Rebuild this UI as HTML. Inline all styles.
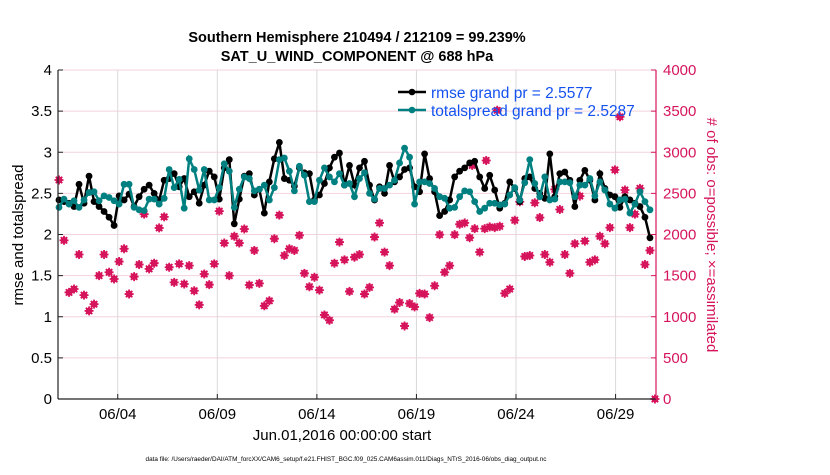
<!DOCTYPE html>
<html><head><meta charset="utf-8"><style>
body{margin:0;background:#fff;}
svg{font-family:"Liberation Sans",Arial,sans-serif;}
</style></head><body>
<svg id="chart" width="830" height="470" xmlns="http://www.w3.org/2000/svg">
<g id="grid"></g><g id="marks"></g><g id="axes"></g>
<text x="357" y="42" text-anchor="middle" font-size="14.5" font-weight="bold">Southern Hemisphere 210494 / 212109 = 99.239%</text>
<text x="357" y="61" text-anchor="middle" font-size="14.5" font-weight="bold">SAT_U_WIND_COMPONENT @ 688 hPa</text>
<text transform="translate(23,235) rotate(-90)" text-anchor="middle" font-size="15">rmse and totalspread</text>
<text transform="translate(707,235) rotate(90)" text-anchor="middle" font-size="15" fill="#d6145c"># of obs: o=possible; ×=assimilated</text>
<text x="342" y="440" text-anchor="middle" font-size="15">Jun.01,2016 00:00:00 start</text>
<text x="346" y="461" text-anchor="middle" font-size="6.4">data file: /Users/raeder/DAI/ATM_forcXX/CAM6_setup/f.e21.FHIST_BGC.f09_025.CAM6assim.011/Diags_NTrS_2016-06/obs_diag_output.nc</text>
<g>
<g><line x1="398" y1="92" x2="426" y2="92" stroke="#000" stroke-width="2.5"/><circle cx="412" cy="92" r="3.3" fill="#000"/><text x="431" y="98" font-size="15.5" fill="#1452f0">rmse grand pr = 2.5577</text></g>
<g><line x1="398" y1="110" x2="426" y2="110" stroke="#008080" stroke-width="2.5"/><circle cx="412" cy="110" r="3.3" fill="#008080"/><text x="431" y="116" font-size="15.5" fill="#1452f0">totalspread grand pr = 2.5287</text></g>
</g>
</svg>
<script>
const rmse=[2.42,2.40,2.38,2.34,2.61,2.38,2.71,2.40,2.34,2.28,2.21,2.11,2.47,2.42,2.49,2.34,2.46,2.55,2.60,2.50,2.42,2.66,2.68,2.74,2.58,2.68,2.46,2.52,2.38,
2.60,2.77,2.70,2.43,2.81,2.91,2.13,2.43,2.71,2.74,2.48,2.55,2.26,2.64,2.92,3.12,2.68,2.66,2.59,2.81,2.75,2.74,2.42,2.48,2.62,2.81,2.94,2.99,2.60,
2.84,2.60,2.81,2.89,2.60,2.42,2.58,2.50,2.84,2.64,2.70,2.79,2.81,2.58,2.52,2.98,2.68,2.52,2.23,2.28,2.42,2.70,2.77,2.81,2.87,2.89,2.70,2.56,2.72,
2.54,2.32,2.38,2.64,2.56,2.40,2.68,2.70,2.56,2.50,2.44,2.98,2.46,2.74,2.76,2.66,2.34,2.66,2.78,2.66,2.42,2.74,2.56,2.48,2.46,2.33,2.46,2.42,2.38,2.34,2.21,1.96];
const spread=[2.33,2.43,2.37,2.41,2.33,2.42,2.51,2.52,2.41,2.47,2.45,2.41,2.37,2.61,2.61,2.33,2.30,2.29,2.43,2.43,2.37,2.44,2.79,2.57,2.67,2.32,2.92,2.79,2.54,
2.79,2.42,2.42,2.57,2.86,2.77,2.33,2.55,2.70,2.68,2.53,2.55,2.60,2.42,2.57,2.91,2.93,2.77,2.53,2.83,2.72,2.40,2.40,2.66,2.81,2.70,2.64,2.74,2.60,
2.62,2.46,2.68,2.75,2.50,2.43,2.56,2.56,2.60,2.66,2.87,3.05,2.94,2.37,2.64,2.64,2.62,2.56,2.46,2.44,2.32,2.33,2.46,2.53,2.52,2.40,2.28,2.32,2.38,
2.38,2.36,2.37,2.48,2.57,2.42,2.63,2.91,2.62,2.46,2.70,2.42,2.43,2.64,2.64,2.63,2.46,2.60,2.60,2.68,2.47,2.64,2.54,2.37,2.32,2.42,2.43,2.26,2.37,2.52,2.40,2.30];
const nobs=[2663,1929,1296,1337,1757,1263,1071,1153,1500,1757,1541,1459,1671,1827,1276,1488,1635,2247,1582,1651,2080,2214,1602,1418,1643,1398,1622,1316,1145,
1520,1390,1643,2284,1896,1500,1978,1896,2067,1386,1806,1406,1133,1194,1949,2235,1745,1827,1806,1990,1528,1365,1480,1324,1022,957,1651,1908,1692,
1308,1724,1757,1276,1357,1969,2141,1786,1622,1092,1173,888,1161,1120,1284,1276,990,1377,1998,1541,1622,1998,2124,2141,1961,2071,1786,2071,2092,
2084,2100,1284,1337,2173,2398,1733,1745,2386,2206,1757,1663,2549,2304,1757,1528,1888,2467,1920,1663,1692,1978,1888,2084,2786,3431,2541,2084,2247,2561,1635,1806,0];
const nposs=[[82.5,2840],[85.3,2900],[87.5,3510]];
const yTicksL=[0,0.5,1,1.5,2,2.5,3,3.5,4];
const yTicksR=[0,500,1000,1500,2000,2500,3000,3500,4000];
const xTickDays=[3,8,13,18,23,28];
const xTickLabels=["06/04","06/09","06/14","06/19","06/24","06/29"];
const T0=0.05, DT=0.2515;

const X0=58,X1=656,Y0=399,Y1=70,DMAX=30.03;
const xs=d=>X0+(d/DMAX)*(X1-X0);
const yL=v=>Y0-(v/4)*(Y0-Y1);
const yR=v=>Y0-(v/4000)*(Y0-Y1);
const NS="http://www.w3.org/2000/svg";
function mk(tag,attrs,parent){const e=document.createElementNS(NS,tag);for(const k in attrs)e.setAttribute(k,attrs[k]);parent.appendChild(e);return e;}
const grid=document.getElementById('grid'),marks=document.getElementById('marks'),axes=document.getElementById('axes');
yTicksL.forEach((v,i)=>{
  const y=yL(v);
  if(v>0){const g=mk('line',{x1:X0,x2:X1,y1:y,y2:y,stroke:'#f2d3de','stroke-width':1},grid);
  
  }
  const t=mk('line',{x1:X0,x2:X0+5,y1:y,y2:y,stroke:'#222'},axes);
  
  
  const l=mk('text',{x:X0-6,y:y+5,'text-anchor':'end','font-size':15},axes);l.textContent=String(v);
  
  
});
yTicksR.forEach(v=>{
  const y=yR(v);
  const t=mk('line',{x1:X1-5,x2:X1,y1:y,y2:y,stroke:'#d6145c'},axes);
  
  
  const l=mk('text',{x:X1+7,y:y+5,'font-size':15,fill:'#d6145c'},axes);l.textContent=String(v);
  
  
});
xTickDays.forEach((d,i)=>{
  const x=xs(d);
  const g=mk('line',{x1:x,x2:x,y1:Y1,y2:Y0,stroke:'#d9d9d9'},grid);
  
  
  const t=mk('line',{x1:x,x2:x,y1:Y0,y2:Y0-5,stroke:'#222'},axes);
  
  
  const l=mk('text',{x:x,y:Y0+20,'text-anchor':'middle','font-size':15},axes);l.textContent=xTickLabels[i];
  
  
});
const ax1=mk('line',{x1:X0,x2:X0,y1:Y1,y2:Y0,stroke:'#222','stroke-width':1.2},axes);


const ax2=mk('line',{x1:X0,x2:X1,y1:Y0,y2:Y0,stroke:'#222','stroke-width':1.2},axes);


const ax3=mk('line',{x1:X1,x2:X1,y1:Y1,y2:Y0,stroke:'#d6145c','stroke-width':1.2},axes);



function star(x,y,name){
  const g=mk('g',{},marks);
  
  
  mk('circle',{cx:x,cy:y,r:3.4,fill:'#d6145c'},g);
  mk('path',{d:`M${x-4.5} ${y}H${x+4.5}M${x} ${y-4.5}V${y+4.5}M${x-3.2} ${y-3.2}L${x+3.2} ${y+3.2}M${x-3.2} ${y+3.2}L${x+3.2} ${y-3.2}`,stroke:'#d6145c','stroke-width':1.8},g);
}
nobs.forEach((v,i)=>star(xs(T0+i*DT),yR(v),'obs-count-point'));
nposs.forEach(p=>star(xs(p[0]*DT+T0),yR(p[1]),'obs-possible-point'));

function series(arr,color,name){
  const pts=arr.map((v,i)=>xs(T0+i*DT).toFixed(1)+','+yL(v).toFixed(1)).join(' ');
  const pl=mk('polyline',{points:pts,fill:'none',stroke:color,'stroke-width':2.5},marks);
  
  
  arr.forEach((v,i)=>{const c=mk('circle',{cx:xs(T0+i*DT),cy:yL(v),r:3.4,fill:color},marks);
    
    });
}
series(rmse,'#000','rmse');
series(spread,'#008080','totalspread');
</script>
</body></html>
